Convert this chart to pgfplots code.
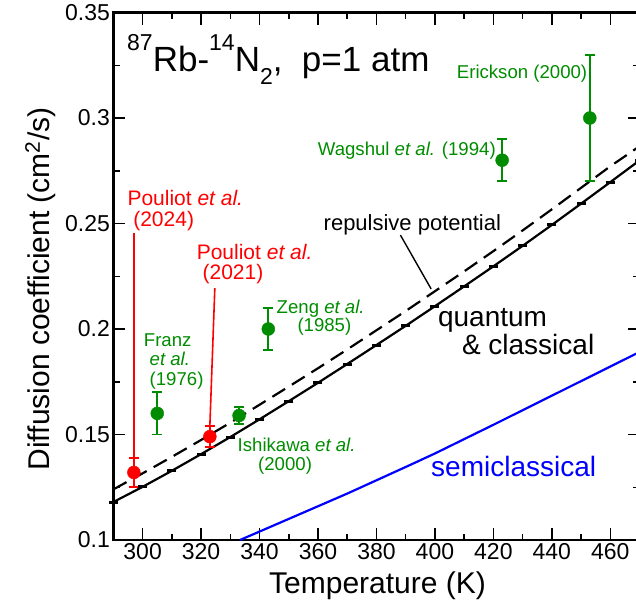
\documentclass[border=0pt]{standalone}
\usepackage{fontspec}
\setmainfont{Liberation Sans}
\usepackage{pgfplots}
\pgfplotsset{compat=1.18}
\definecolor{dgreen}{RGB}{0,140,0}
\newcommand\gfont{\fontsize{18.6}{21}\selectfont}
\newcommand\rfont{\fontsize{21}{24}\selectfont}
\begin{document}
\begin{tikzpicture}[x=1pt,y=1pt]
\begin{axis}[
  at={(113.4pt,66pt)}, anchor=south west,
  scale only axis, width=526.1pt, height=527.5pt,
  xmin=290, xmax=470, ymin=0.1, ymax=0.35,
  xtick={300,320,...,460},
  ytick={0.1,0.15,0.2,0.25,0.3,0.35},
  yticklabels={0.1,0.15,0.2,0.25,0.3,0.35},
  minor x tick num=1, minor y tick num=1,
  tick align=inside,
  major tick length=12pt, minor tick length=6.5pt,
  axis line style={line width=2.2pt},
  every tick/.style={black, line width=1.5pt},
  tick label style={font=\fontsize{23}{25}\selectfont},
  /pgf/number format/assume math mode=true,
  /pgf/number format/1000 sep={},
]
% quantum & classical
\addplot[black, line width=2.2pt, mark=-, mark size=4.5pt, mark options={line width=3pt}] coordinates {
(290,0.1180) (300,0.1252) (310,0.1328) (320,0.1407) (330,0.1488) (340,0.1572)
(350,0.1658) (360,0.1745) (370,0.1834) (380,0.1924) (390,0.2015) (400,0.2108)
(410,0.2202) (420,0.2297) (430,0.2394) (440,0.2493) (450,0.2594) (460,0.2696) (470,0.2799)};
% repulsive potential
\addplot[black, line width=2.2pt, dash pattern=on 15pt off 8pt] coordinates {
(290,0.1240) (300,0.1316) (310,0.1394) (320,0.1474) (330,0.1556) (340,0.1641)
(350,0.1727) (360,0.1814) (370,0.1903) (380,0.1994) (390,0.2085) (400,0.2179)
(410,0.2273) (420,0.2369) (430,0.2467) (440,0.2567) (450,0.2669) (460,0.2771) (470,0.2866)};
% semiclassical
\addplot[blue, line width=2.2pt] coordinates {
(333.3,0.1000) (340,0.1040) (350,0.1100) (360,0.1160) (370,0.1220) (380,0.1283)
(390,0.1346) (400,0.1410) (410,0.1478) (420,0.1546) (430,0.1615) (440,0.1684)
(450,0.1753) (460,0.1822) (470,0.1891)};
% pointer lines
\draw[red, line width=1.6pt] (axis cs:297,0.2455) -- (axis cs:297,0.139);
\draw[red, line width=1.6pt] (axis cs:324.7,0.2194) -- (axis cs:323,0.154);
\draw[black, line width=1.4pt] (axis cs:388.2,0.2445) -- (axis cs:398.7,0.2190);
% experimental points
\addplot[only marks, color=red, mark=*, mark size=6.5pt,
  error bars/.cd, y dir=both, y explicit,
  error bar style={line width=1.8pt, red},
  error mark options={rotate=90, line width=1.8pt, mark size=5pt, red}]
  coordinates {(297,0.132) +- (0,0.007) (323,0.149) +- (0,0.005)};
\addplot[only marks, color=dgreen, mark=*, mark size=6.5pt,
  error bars/.cd, y dir=both, y explicit,
  error bar style={line width=1.8pt, dgreen},
  error mark options={rotate=90, line width=1.8pt, mark size=5pt, dgreen}]
  coordinates {(305,0.160) +- (0,0.010) (333,0.159) +- (0,0.004) (343,0.200) +- (0,0.010)
  (423,0.280) +- (0,0.010) (453,0.300) +- (0,0.030)};
\end{axis}
% title
\node[anchor=base west, inner sep=0] at (127,534.3) {\fontsize{35}{40}\selectfont
  \raisebox{21pt}{\fontsize{23}{25}\selectfont 87}Rb-\raisebox{21pt}{\fontsize{23}{25}\selectfont 14}N\raisebox{-13pt}{\fontsize{23}{25}\selectfont 2},\ \ p=1 atm};
% green labels
\begin{scope}[every node/.style={anchor=base west, inner sep=0, text=dgreen, font=\gfont}]
\node at (456.7,527.7) {Erickson (2000)};
\node at (317.7,450.3) {Wagshul \textit{et al.} (1994)};
\node at (143.7,259.3) {Franz};
\node at (149.5,240.3) {\textit{et al.}};
\node at (149.5,221) {(1976)};
\node at (276.5,292.7) {Zeng \textit{et al.}};
\node at (297.3,274.3) {(1985)};
\node at (237.5,154.3) {Ishikawa \textit{et al.}};
\node at (258,136) {(2000)};
\end{scope}
% red labels
\begin{scope}[every node/.style={anchor=base west, inner sep=0, text=red, font=\rfont}]
\node at (127.3,401) {Pouliot \textit{et al.}};
\node at (133.1,379.3) {(2024)};
\node at (196.6,347) {Pouliot \textit{et al.}};
\node at (202.4,326.7) {(2021)};
\end{scope}
\node[anchor=base west, inner sep=0, font=\fontsize{22}{25}\selectfont] at (323.5,376) {repulsive potential};
\node[anchor=base west, inner sep=0, font=\fontsize{28}{32}\selectfont] at (437.9,279.3) {quantum};
\node[anchor=base west, inner sep=0, font=\fontsize{28}{32}\selectfont] at (461.8,251.7) {\& classical};
\node[anchor=base west, inner sep=0, text=blue, font=\fontsize{28}{32}\selectfont] at (431,129.3) {semiclassical};
% axis labels
\node[anchor=base, inner sep=0, font=\fontsize{30}{34}\selectfont] at (377.5,12.7) {Temperature (K)};
\node[anchor=base, inner sep=0, rotate=90, font=\fontsize{30}{34}\selectfont] at (49,317) {Diffusion coefficient (cm\textsuperscript{2}/s)};
\pgfresetboundingbox
\path[use as bounding box] (0,0) rectangle (636,606);
\end{tikzpicture}
\end{document}
